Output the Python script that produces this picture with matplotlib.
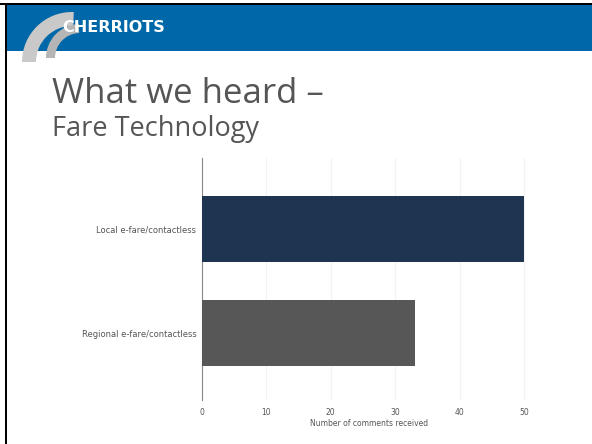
import matplotlib.pyplot as plt
from matplotlib.patches import Rectangle, Wedge

# Data
categories = ['Local e-fare/contactless', 'Regional e-fare/contactless']
comments = [50, 33]
bar_colors = ['#1e3450', '#575757']
x_ticks = [0, 10, 20, 30, 40, 50]

W, H = 592, 444
fig = plt.figure(figsize=(W / 100, H / 100), dpi=100)
fig.patch.set_facecolor('white')

# slide decoration in pixel coordinates
deco = fig.add_axes([0, 0, 1, 1])
deco.set_xlim(0, W)
deco.set_ylim(H, 0)
deco.axis('off')
deco.add_patch(Rectangle((6, 5), W - 6, 46, color='#0068a8', lw=0))
deco.add_patch(Rectangle((0, 3), W, 2.2, color='black', lw=0))
deco.add_patch(Rectangle((5, 3), 2.2, H, color='black', lw=0))
# logo swooshes
deco.add_patch(Wedge((72, 62), 50, 180, 272, width=14, color='#c9c9c9', lw=0))
deco.add_patch(Wedge((80, 58), 34, 180, 268, width=9, color='#b5b5b5', lw=0))
deco.text(62, 28, 'CHERRIOTS', color='white', fontsize=11.5, fontweight='bold',
          family='DejaVu Sans', va='center', ha='left')
deco.text(52, 103, 'What we heard \u2013', color='#555555', fontsize=25,
          family='Open Sans', va='baseline', ha='left')
deco.text(52, 136, 'Fare Technology', color='#555555', fontsize=19.5,
          family='Open Sans', va='baseline', ha='left')

# chart
px_per = (524 - 202) / 50
x_max = 52
left, right = 202, 202 + px_per * x_max
top, bottom = 158, 400
ax = fig.add_axes([left / W, 1 - bottom / H, (right - left) / W, (bottom - top) / H])
ypos = list(range(len(categories)))
ax.barh(ypos, comments, height=0.63, color=bar_colors, zorder=3)
ax.set_xlim(0, x_max)
ax.set_ylim(1.64, -0.68)
ax.set_yticks(ypos)
ax.set_yticklabels(categories, fontsize=6, color='#555555')
ax.set_xticks(x_ticks)
ax.set_xticklabels([str(t) for t in x_ticks], fontsize=5.5, color='#555555')
ax.tick_params(axis='both', length=0, pad=4)
ax.tick_params(axis='x', pad=6)
ax.set_xlabel('Number of comments received', fontsize=5.5, color='#555555', labelpad=1)
ax.xaxis.grid(True, color='#f3f3f3', lw=0.8, zorder=0)
for s in ['top', 'right', 'bottom']:
    ax.spines[s].set_visible(False)
ax.spines['left'].set_color('#888888')
ax.spines['left'].set_linewidth(0.8)

fig.savefig('out.png', dpi=100)
